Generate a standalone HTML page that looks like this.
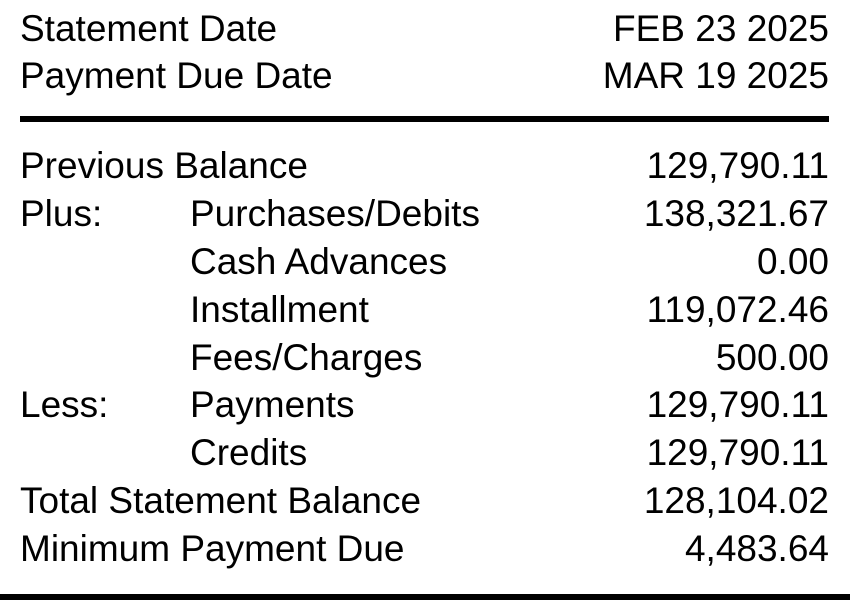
<!DOCTYPE html>
<html><head><meta charset="utf-8"><style>
body{margin:0;width:850px;height:600px;background:#fff;overflow:hidden;position:relative;font-family:"Liberation Sans",Arial,sans-serif;color:#000}
.t{position:absolute;font-size:37px;line-height:37px;white-space:nowrap}
.r{right:21px;text-align:right}
.rule{position:absolute;background:#000}
</style></head><body>
<div class="t" style="left:20px;top:10px">Statement Date</div>
<div class="t r" style="top:10px">FEB 23 2025</div>
<div class="t" style="left:20px;top:57px">Payment Due Date</div>
<div class="t r" style="top:57px">MAR 19 2025</div>
<div class="rule" style="left:20px;width:809px;top:116px;height:6px"></div>

<div class="t" style="left:20px;top:147px">Previous Balance</div>
<div class="t r" style="top:147px">129,790.11</div>

<div class="t" style="left:20px;top:195px">Plus:</div>
<div class="t" style="left:190px;top:195px">Purchases/Debits</div>
<div class="t r" style="top:195px">138,321.67</div>

<div class="t" style="left:190px;top:243px">Cash Advances</div>
<div class="t r" style="top:243px">0.00</div>

<div class="t" style="left:190px;top:291px">Installment</div>
<div class="t r" style="top:291px">119,072.46</div>

<div class="t" style="left:190px;top:339px">Fees/Charges</div>
<div class="t r" style="top:339px">500.00</div>

<div class="t" style="left:20px;top:386px">Less:</div>
<div class="t" style="left:190px;top:386px">Payments</div>
<div class="t r" style="top:386px">129,790.11</div>

<div class="t" style="left:190px;top:434px">Credits</div>
<div class="t r" style="top:434px">129,790.11</div>

<div class="t" style="left:20px;top:482px">Total Statement Balance</div>
<div class="t r" style="top:482px">128,104.02</div>

<div class="t" style="left:20px;top:530px">Minimum Payment Due</div>
<div class="t r" style="top:530px">4,483.64</div>

<div class="rule" style="left:0;width:850px;top:594px;height:6px"></div>
</body></html>
